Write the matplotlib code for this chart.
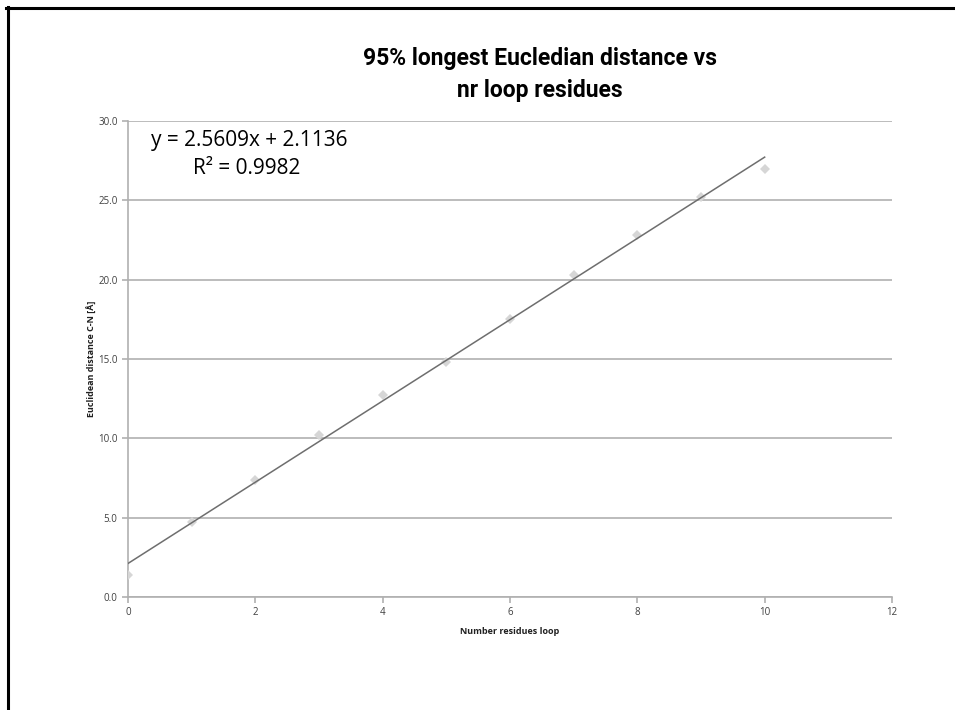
import numpy as np
import matplotlib.pyplot as plt
from matplotlib.lines import Line2D

# data
n_residues = [0, 1, 2, 3, 4, 5, 6, 7, 8, 9, 10]
distance = [1.4, 4.7, 7.4, 10.2, 12.7, 14.8, 17.5, 20.3, 22.8, 25.2, 27.0]

# trendline as printed on the chart
slope = 2.5609
intercept = 2.1136
r2 = 0.9982

plt.rcParams['font.family'] = ['Open Sans', 'DejaVu Sans']

fig = plt.figure(figsize=(9.55, 7.1), dpi=100)
ax = fig.add_axes([128 / 955, 1 - 597 / 710, (892 - 128) / 955, (597 - 121) / 710])

grid_c = '#b0b0b0'
ax.yaxis.grid(True, color=grid_c, linewidth=1.2)
ax.set_axisbelow(True)

ax.plot(n_residues, distance, 'D', color='#d6d6d6', markersize=5.5,
        markeredgewidth=0, zorder=3)

xfit = np.array([n_residues[0], n_residues[-1]])
ax.plot(xfit, slope * xfit + intercept, color='#6e6e6e', linewidth=1.1, zorder=4)

ax.set_xlim(0, 12)
ax.set_ylim(0, 30)
ax.set_xticks(np.arange(0, 13, 2))
ax.set_yticks(np.arange(0, 31, 5))
ax.set_yticklabels([f'{v:.1f}' for v in np.arange(0, 31, 5)])

for s in ['top', 'right']:
    ax.spines[s].set_visible(False)
for s in ['left', 'bottom']:
    ax.spines[s].set_color(grid_c)
    ax.spines[s].set_linewidth(1.2)
ax.tick_params(colors=grid_c, labelcolor='#404040', labelsize=7, length=4, width=1.2)

ax.set_xlabel('Number residues loop', fontsize=6.5, fontweight='bold', color='#202020', labelpad=6)
ax.set_ylabel('Euclidean distance C-N [Å]', fontsize=6.5, fontweight='bold', color='#202020', labelpad=1)

fig.text(540 / 955, 1 - 75 / 710, '95% longest Eucledian distance vs\nnr loop residues',
         ha='center', va='center', fontsize=16.5, fontweight='bold', linespacing=1.5,
         family=['Roboto', 'DejaVu Sans'])

ax.text(0.03, 0.960, f'y = {slope}x + {intercept}', transform=ax.transAxes,
        fontsize=15, ha='left', va='center')
ax.text(0.085, 0.901, f'R² = {r2}', transform=ax.transAxes,
        fontsize=15, ha='left', va='center')

# outer frame (top and left edges visible)
fig.add_artist(Line2D([6 / 955, 1.0], [1 - 8 / 710, 1 - 8 / 710], color='black', linewidth=2.2))
fig.add_artist(Line2D([8 / 955, 8 / 955], [0, 1 - 7 / 710], color='black', linewidth=2.2))

fig.savefig('out.png', dpi=100)
